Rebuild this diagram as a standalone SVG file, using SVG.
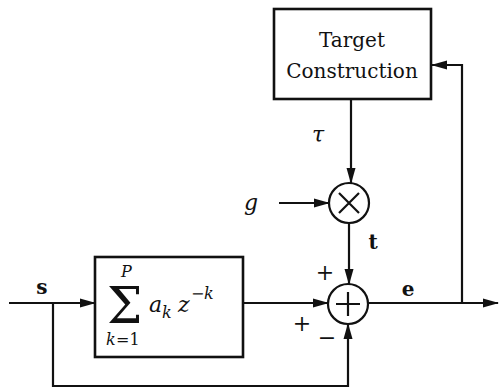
<svg xmlns="http://www.w3.org/2000/svg" width="499" height="390" viewBox="0 0 499 390">
<style>
.ln{fill:none;stroke:#111;stroke-width:2.2}
.bx{fill:#fff;stroke:#111;stroke-width:2.6}
text{font-family:'DejaVu Serif','Liberation Serif','Noto Serif',serif;fill:#111}
.it{font-style:italic}
.b{font-weight:bold}
</style>
<defs>
<marker id="ah" markerWidth="16" markerHeight="10" refX="15" refY="5" orient="auto" markerUnits="userSpaceOnUse">
<path d="M0,0.5 L16,5 L0,9.5 Z" fill="#111"/>
</marker>
</defs>
<g id="connectors">
<line class="ln" x1="351" y1="99" x2="351" y2="183" marker-end="url(#ah)"/>
<line class="ln" x1="279" y1="203" x2="329" y2="203" marker-end="url(#ah)"/>
<line class="ln" x1="349" y1="223" x2="349" y2="284" marker-end="url(#ah)"/>
<line class="ln" x1="9" y1="303" x2="95" y2="303" marker-end="url(#ah)"/>
<line class="ln" x1="243" y1="303" x2="328" y2="303" marker-end="url(#ah)"/>
<line class="ln" x1="368" y1="303" x2="498" y2="303" marker-end="url(#ah)"/>
<polyline class="ln" points="462,303 462,65 432,65" marker-end="url(#ah)"/>
<polyline class="ln" points="53,303 53,386 348,386 348,324" marker-end="url(#ah)"/>
</g>
<g id="target">
<rect class="bx" x="274" y="9" width="157" height="90"/>
<text x="352" y="47" font-size="20" text-anchor="middle">Target</text>
<text x="352" y="78" font-size="20" text-anchor="middle">Construction</text>
</g>
<g id="filter">
<rect class="bx" x="95" y="257" width="148" height="100"/>
<text x="107" y="323" font-size="50">Σ</text>
<text class="it" x="121" y="277" font-size="16">P</text>
<text class="it" x="106" y="345" font-size="16">k</text>
<text x="116" y="345" font-size="16">=1</text>
<text class="it" x="149" y="312" font-size="22">a</text>
<text class="it" x="162" y="318" font-size="16">k</text>
<text class="it" x="178" y="312" font-size="22">z</text>
<text x="191" y="299" font-size="16">−</text>
<text class="it" x="204" y="299" font-size="16">k</text>
</g>
<g id="mult">
<circle class="ln" cx="349" cy="203" r="20"/>
<path class="ln" d="M339,193 L359,213 M359,193 L339,213" stroke-width="1.8"/>
</g>
<g id="sum">
<circle class="ln" cx="348" cy="304" r="20"/>
<path class="ln" d="M336,304 H360 M348,292 V316" stroke-width="1.8"/>
</g>
<g id="labels">
<text class="it" x="318" y="142" font-size="22" text-anchor="middle">τ</text>
<text class="it" x="251" y="210" font-size="22" text-anchor="middle">g</text>
<text class="b" x="373" y="249" font-size="20" text-anchor="middle">t</text>
<text class="b" x="408" y="296" font-size="20" text-anchor="middle">e</text>
<text class="b" x="42" y="294" font-size="20" text-anchor="middle">s</text>
<text x="325" y="280" font-size="22" text-anchor="middle">+</text>
<text x="302" y="331" font-size="22" text-anchor="middle">+</text>
<text x="327" y="345" font-size="22" text-anchor="middle">−</text>
</g>
</svg>
